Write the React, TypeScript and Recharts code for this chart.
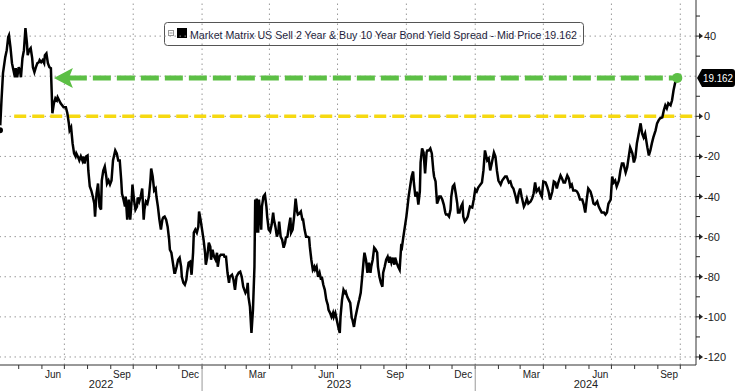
import { LineChart, Line, XAxis, YAxis, ReferenceLine, ReferenceDot, Customized } from "recharts"

// x = days since 1 Jan 2022
const days = [
  95, 97, 99, 102, 104, 106, 107, 109, 111, 113,
  115, 116, 118, 120, 122, 123, 125, 127, 129, 131,
  132, 134, 136, 138, 139, 141, 143, 145, 147, 148,
  150, 152, 154, 155, 157, 159, 161, 163, 164, 165,
  167, 169, 171, 172, 174, 176, 178, 180, 183, 185,
  187, 188, 190, 192, 194, 196, 197, 199, 201, 203,
  205, 206, 208, 210, 212, 213, 215, 217, 219, 221,
  222, 224, 226, 228, 230, 231, 233, 235, 237, 238,
  240,
  242, 244, 246, 249, 251, 253, 255, 257, 258, 260,
  262, 263, 265, 267, 269, 271, 272, 274, 276, 278,
  279, 281, 283, 285, 287, 288, 290, 292, 294, 296,
  297, 299, 301, 303, 304, 306, 308, 310, 312, 313,
  315, 317, 319, 321, 322, 324, 326, 328, 329, 331,
  333, 335, 337, 338, 340, 342, 344, 345, 347, 349,
  351, 353, 354, 356, 358, 360, 361, 363, 365, 367,
  369, 370, 372, 374, 376, 377, 379, 381, 383, 385,
  386, 388, 390, 394, 395, 397, 399, 401, 402,
  405, 407, 409, 411, 414, 416, 418, 420, 423, 425,
  426, 427, 429, 431, 433, 435, 436, 437, 438, 440,
  441, 443, 444, 445, 447, 449, 451, 452, 454, 456,
  458, 460, 461, 463, 465, 467, 468, 470, 472, 474,
  476, 477, 479, 481, 483, 484, 486, 488, 490, 492,
  493, 495, 497, 499, 500, 502, 504, 506, 508, 509,
  511, 513, 515, 516, 518, 520, 522, 524, 525, 527,
  529, 531, 533, 534, 536, 538, 540, 541, 543, 545,
  547, 549, 550, 552, 554, 556, 557, 559, 561,
  563, 565, 566, 568, 570, 572, 574, 575, 577, 579,
  581, 582, 584, 586, 588, 590, 591, 593, 595, 597,
  599, 600, 602, 604, 606, 607, 609, 611, 613, 615,
  616, 618, 620, 622, 623, 625, 627, 629, 631, 632,
  634, 636, 638, 640, 641, 643, 645, 647, 648, 650,
  652, 654, 656, 657, 659, 661, 663, 665, 666, 668,
  670, 672, 674, 675, 677, 679, 681, 682, 684, 686,
  688, 690, 691, 693, 695, 697, 698, 700, 702, 704,
  706, 707, 709, 711, 713, 714, 716, 718, 720, 722,
  723,
  726, 728, 730, 732, 734, 737, 739, 741, 743, 746,
  748, 750, 752, 755, 757, 759, 761, 764, 766, 768,
  770, 772, 775, 777, 779, 781, 784, 786, 788, 790,
  792, 795, 797, 799, 801, 804, 806, 808, 810, 812,
  815, 817, 819, 821, 824, 826, 828, 830, 833, 835,
  837, 839, 841, 844, 846, 848, 850, 853, 855, 857,
  859, 861, 864, 866, 868, 870, 873, 875, 877, 879,
  881, 884, 886, 888, 890, 893, 895, 897, 899, 902,
  904, 906, 908, 911, 913, 915, 917, 919, 922, 924,
  926, 928, 931, 933, 935, 937, 940, 942, 944, 946,
  948, 951, 953, 955, 957, 960, 962, 964, 966, 968,
  971, 973, 975, 977, 980, 982, 984, 986, 988, 991,
  993, 995, 997, 1000,
]

// 2s10s spread, bp
const spread = [
  -7, 8, 21.5, 29.5, 33, 39.5, 40.4, 34.4, 26.5, 23,
  19.5, 24, 19.5, 24.5, 22, 19.5, 29, 33, 44, 36.4,
  30.5, 33, 34, 29, 24.5, 22, 24.5, 26.5, 27, 28,
  27, 28, 26.5, 30.5, 31.4, 26.5, 24.5, 24, 13, 1.5,
  6.5, 9, 8, 9.5, 8, 6.5, 5.5, 4.5, 4.5, 1.5,
  -3.5, -7, -5.5, -13.5, -18.5, -20, -18.5, -20, -22, -20,
  -22, -20, -23.5, -20, -19.5, -27, -35, -37, -40, -43.5,
  -50, -38.5, -33.5, -45, -46.5, -32, -27, -25, -30, -33.5,
  -32,
  -34, -32, -22, -17, -18.5, -22, -22, -32, -38.5, -41.5,
  -45, -40, -51.5, -41.5, -51.5, -41.5, -34, -41.5, -46.5, -45,
  -40.5, -42.5, -40, -36, -51.5, -46.5, -42.5, -43.5, -40, -32,
  -26, -30, -37, -36, -40, -45, -51.5, -56.5, -51.5, -50.5,
  -50, -51.5, -55, -61.5, -66.5, -68, -73, -78, -78, -75,
  -71.5, -70.5, -75, -80, -83, -84, -81.5, -78, -73, -72.5,
  -79, -68, -58, -56.5, -58, -55, -47.5, -51.5, -56.5, -61.5,
  -68, -74, -70, -63, -65, -71.5, -66.5, -70, -71.5, -68,
  -75, -70, -69, -69, -70, -70, -78, -83, -80,
  -79, -81.5, -86.5, -80, -78, -77.5, -80, -85, -88, -86.5,
  -83, -90, -95, -108, -96.5, -75, -41.5, -58, -41, -58,
  -41.5, -50, -56.5, -45, -40, -39, -45, -50, -56.5, -57.5,
  -54, -48, -51.5, -55, -60, -57.5, -52.5, -60, -61.5, -65.5,
  -63, -60.5, -60, -55, -50.5, -58, -56.5, -50, -41, -47.5,
  -49, -48.5, -47.5, -51.5, -51.5, -56.5, -60, -60, -60.5, -65,
  -71.5, -76.5, -75, -76.5, -75, -80, -78, -81.5, -80, -84,
  -86.5, -91.5, -94, -96.5, -98, -100, -98, -100, -98, -101.5,
  -105, -108, -100, -91.5, -86.5, -88, -87.5, -90, -91.5,
  -93, -100.5, -101.5, -105, -100, -96.5, -93, -91.5, -88, -80,
  -71.5, -68, -71.5, -78, -73, -78, -75, -71.5, -65.5, -66.5,
  -68, -75, -80, -83, -85, -78, -75, -71.5, -70, -73,
  -70, -73, -70.5, -74, -70.5, -73, -75, -76.5, -65, -65.5,
  -60, -55, -50, -43.5, -40, -35, -30, -27.5, -33, -40,
  -37.5, -44, -37.5, -23, -16, -18, -28.5, -18, -17, -17,
  -16, -18.5, -27, -30, -32.5, -43.5, -41.5, -40, -40, -41.5,
  -44, -48, -49, -49, -50, -46.5, -40, -35, -34, -38.5,
  -43.5, -48, -48, -45, -43.5, -50, -52.5, -51.5, -50, -46.5,
  -45,
  -45.5, -41.5, -36.5, -37.5, -35.5, -34, -33, -27, -17, -22,
  -21, -27, -23.5, -18, -20, -27, -32, -34, -32, -31,
  -30, -30, -33, -32.5, -35, -36, -40, -43.5, -38.5, -36,
  -40, -45, -43.5, -41, -43.5, -42.5, -41, -38.5, -33, -37.5,
  -36, -38.5, -40, -32.5, -33, -35, -37.5, -41.5, -37.5, -32.5,
  -33, -36, -33, -29.5, -31, -33, -33, -29.5, -31, -35,
  -34, -37, -37, -37.5, -39, -41.5, -41.5, -44, -48, -41.5,
  -36, -37.5, -40, -43.5, -44, -42.5, -45, -46.5, -48, -48,
  -49, -48, -43.5, -41.5, -30, -33, -32, -35, -32, -27,
  -23.5, -23.5, -28, -25.5, -20.5, -15.5, -18.5, -23, -20.5, -13.5,
  -9.5, -3.5, -8.5, -10.5, -8.5, -15.5, -19.5, -17, -13.5, -10.5,
  -7, -3.5, -2, -1, -0.5, 3, 5.5, 4, 6.5, 5.5,
  8, 13, 16.5, 19.162,
]

const lastValue = 19.162
const lastDay = 1000
const arrowTipDay = 167
const zeroLineFromDay = 114
const xStart = 95
const xEnd = 1025
const yTicks = [-120, -110, -100, -90, -80, -70, -60, -50, -40, -30, -20, -10, 0, 10, lastValue, 30, 40, 50]
const gridValues = [-120, -100, -80, -60, -40, -20, 0, 20, 40]
const labelMonths = [3, 6, 9, 12]
const monthNames = ["Jan", "Feb", "Mar", "Apr", "May", "Jun", "Jul", "Aug", "Sep", "Oct", "Nov", "Dec"]
const years = [2022, 2023, 2024]
const legendText = "Market Matrix US Sell 2 Year & Buy 10 Year Bond Yield Spread - Mid Price 19.162"

const GREEN = "#5cbf45"
const YELLOW = "#f6d911"
const FONT = "'Liberation Sans', Arial, sans-serif"

const data = days.map((d, i) => ({ day: d, spread: spread[i] }))

const dayOf = (y: number, m: number, d = 1) =>
  Math.round((Date.UTC(y, m - 1, d) - Date.UTC(2022, 0, 1)) / 86400000)

type TickInfo = { kind: "month" | "mlabel" | "year"; text?: string; yearStart?: boolean }
const xTickInfo = new Map<number, TickInfo>()
const quarterDays: number[] = []
years.forEach((y) => {
  for (let m = 1; m <= 12; m++) {
    const s = dayOf(y, m)
    if (s > xStart && s < xEnd) {
      xTickInfo.set(s, { kind: "month", yearStart: m === 1 })
      if (m % 3 === 1) quarterDays.push(s)
    }
    if (labelMonths.includes(m)) {
      const mid = dayOf(y, m, 16)
      if (mid > xStart && mid < xEnd) xTickInfo.set(mid, { kind: "mlabel", text: monthNames[m - 1] })
    }
  }
  const c = Math.round((Math.max(xStart, dayOf(y, 1)) + Math.min(xEnd, dayOf(y + 1, 1))) / 2)
  xTickInfo.set(c, { kind: "year", text: String(y) })
})
const xTicks = Array.from(xTickInfo.keys()).sort((a, b) => a - b)

function XTick(props: any) {
  const { x, y, payload } = props
  const info = xTickInfo.get(payload.value)
  if (!info) return null
  if (info.kind === "month") {
    return (
      <g>
        <line x1={x} x2={x} y1={y} y2={y + 4} stroke="#333" />
        {info.yearStart && <line x1={x} x2={x} y1={y} y2={391} stroke="#999" />}
      </g>
    )
  }
  if (info.kind === "mlabel") {
    return (
      <text x={x} y={y + 13} textAnchor="middle" fontSize={10} fontFamily={FONT} fill="#222">
        {info.text}
      </text>
    )
  }
  return (
    <text x={x} y={y + 23} textAnchor="middle" fontSize={11} fontFamily={FONT} fill="#222">
      {info.text}
    </text>
  )
}

function YTick(props: any) {
  const { x, y, payload } = props
  const v = payload.value
  if (v === lastValue) {
    return (
      <g>
        <path
          d={`M${x + 1},${y} L${x + 6},${y - 9} H${x + 36} Q${x + 39},${y - 9} ${x + 39},${y - 6} V${y + 6} Q${x + 39},${y + 9} ${x + 36},${y + 9} H${x + 6} Z`}
          fill="#000"
        />
        <text x={x + 7} y={y + 4} fontSize={10} fontFamily={FONT} fill="#fff" textLength={30} lengthAdjust="spacingAndGlyphs">
          {v.toFixed(3)}
        </text>
      </g>
    )
  }
  if (v % 20 === 0) {
    return (
      <g>
        <line x1={x} x2={x + 4} y1={y} y2={y} stroke="#222" />
        <path d={`M${x + 3},${y - 3} L${x + 7},${y} L${x + 3},${y + 3} Z`} fill="#222" />
        <text x={x + 8} y={y + 4} fontSize={11} fontFamily={FONT} fill="#222">
          {v}
        </text>
      </g>
    )
  }
  return <line x1={x} x2={x + 4} y1={y} y2={y} stroke="#222" />
}

function LegendBox() {
  return (
    <g>
      <rect x={164.5} y={22.5} width={419} height={23} rx={3} fill="#fff" stroke="#555" />
      <rect x={168.5} y={30.5} width={5} height={5} fill="#fff" stroke="#999" />
      <line x1={169.5} x2={172.5} y1={33} y2={33} stroke="#999" />
      <rect x={177} y={28} width={10} height={10} fill="#000" />
      <text x={190} y={38.5} fontSize={11} fontFamily={FONT} fill="#1a1a3a" textLength={387} lengthAdjust="spacingAndGlyphs">
        {legendText}
      </text>
    </g>
  )
}

function ArrowHead(props: any) {
  const { cx, cy } = props
  return <path d={`M${cx},${cy} L${cx + 19},${cy - 10} L${cx + 15},${cy} L${cx + 19},${cy + 10} Z`} fill={GREEN} />
}

export default function App() {
  return (
    <div style={{ width: 736, height: 391 }}>
      <style>{"body{margin:0}"}</style>
      <LineChart width={736} height={391} data={data} margin={{ top: 0, right: 0, bottom: 0, left: 0 }}>
        <XAxis
          dataKey="day"
          type="number"
          domain={[xStart, xEnd]}
          allowDataOverflow
          ticks={xTicks}
          interval={0}
          tick={<XTick />}
          tickLine={false}
          tickSize={0}
          tickMargin={0}
          axisLine={{ stroke: "#333" }}
          height={26}
        />
        <YAxis
          orientation="right"
          type="number"
          domain={[-124, 58]}
          allowDataOverflow
          ticks={yTicks}
          interval={0}
          tick={<YTick />}
          tickLine={false}
          tickSize={0}
          tickMargin={0}
          axisLine={{ stroke: "#333" }}
          width={40}
        />
        {gridValues.map((g) => (
          <ReferenceLine key={"h" + g} y={g} stroke="#999" strokeDasharray="1.5 3.5" />
        ))}
        {quarterDays.map((q) => (
          <ReferenceLine key={"v" + q} x={q} stroke="#999" strokeDasharray="1.5 3.5" />
        ))}
        <ReferenceLine
          segment={[{ x: zeroLineFromDay, y: 0 }, { x: xEnd, y: 0 }]}
          stroke={YELLOW}
          strokeWidth={3.5}
          strokeDasharray="12 6"
        />
        <ReferenceLine
          segment={[{ x: arrowTipDay + 20, y: lastValue }, { x: lastDay, y: lastValue }]}
          stroke={GREEN}
          strokeWidth={5}
          strokeDasharray="18 6"
        />
        <ReferenceDot x={arrowTipDay} y={lastValue} shape={<ArrowHead />} />
        <Line dataKey="spread" stroke="#000" strokeWidth={2.5} dot={false} isAnimationActive={false} />
        <ReferenceDot x={lastDay} y={lastValue} r={5} fill={GREEN} stroke="none" />
        <Customized component={LegendBox} />
      </LineChart>
    </div>
  )
}
